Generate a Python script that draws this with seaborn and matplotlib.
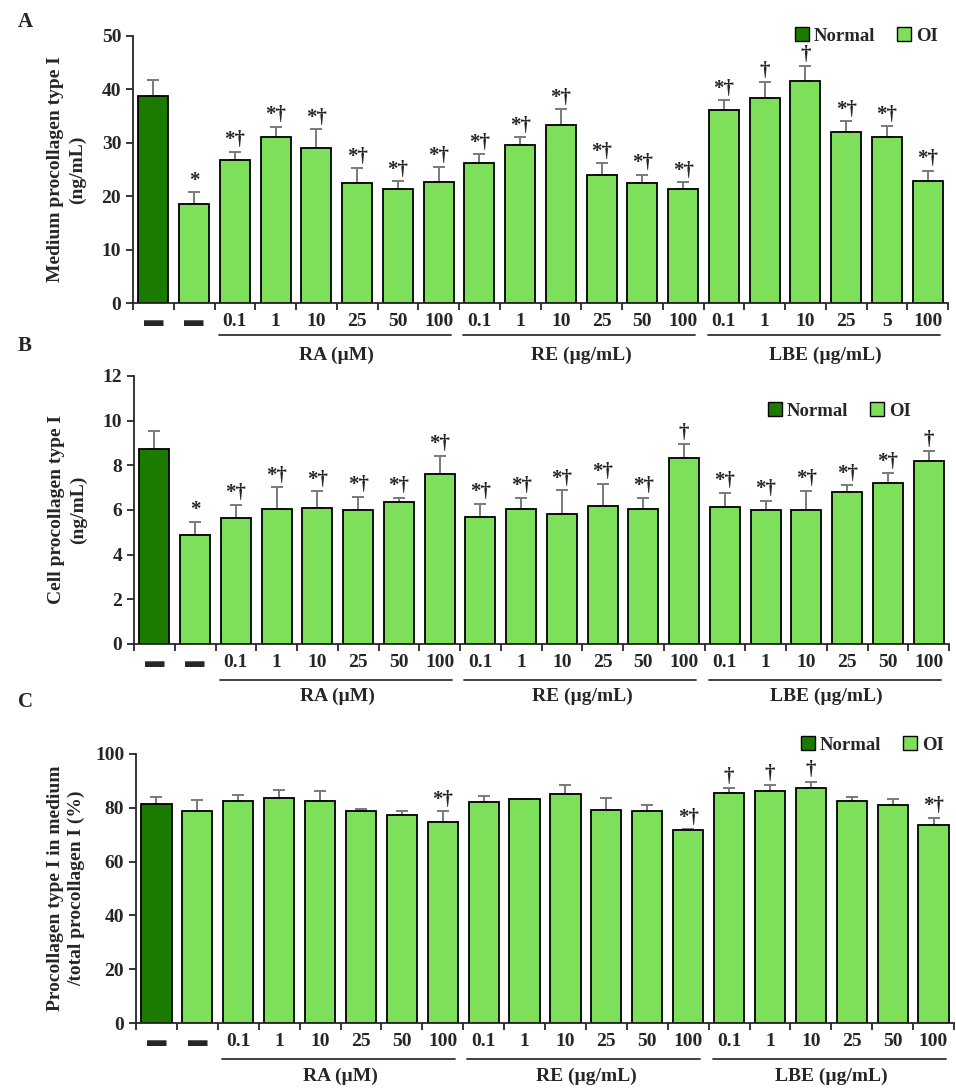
import numpy as np
import pandas as pd
import matplotlib
matplotlib.use("Agg")
import matplotlib.pyplot as plt
import matplotlib.transforms as mtransforms
from matplotlib.patches import Patch
import seaborn as sns

# bar identities (20 bars per panel)
bar_ids = ["Normal", "OI"] + [f"{g} {c}" for g in ["RA", "RE", "LBE"] for c in ["0.1", "1", "10", "25", "50", "100"]]
bar_group = ["Normal"] + ["OI"] * 19

ticks_a = ["▬", "▬"] + ["0.1", "1", "10", "25", "50", "100"] * 2 + ["0.1", "1", "10", "25", "5", "100"]
ticks_bc = ["▬", "▬"] + ["0.1", "1", "10", "25", "50", "100"] * 3

treatments = ["RA (µM)", "RE (µg/mL)", "LBE (µg/mL)"]

# panel A: medium procollagen type I (ng/mL)
a_mean = [38.8, 18.5, 26.8, 31.0, 29.0, 22.4, 21.4, 22.6, 26.2, 29.5, 33.4, 23.9, 22.4, 21.4,
          36.2, 38.3, 41.5, 32.0, 31.0, 22.9]
a_err = [2.9, 2.3, 1.5, 2.0, 3.6, 2.8, 1.4, 2.8, 1.7, 1.5, 2.9, 2.3, 1.6, 1.2,
         1.8, 3.1, 2.8, 2.1, 2.1, 1.9]
a_marks = ["", "*"] + ["*†"] * 12 + ["*†", "†", "†", "*†", "*†", "*†"]

# panel B: cell procollagen type I (ng/mL)
b_mean = [8.74, 4.87, 5.66, 6.03, 6.09, 5.98, 6.34, 7.62, 5.70, 6.03, 5.84, 6.18, 6.03, 8.34,
          6.13, 5.98, 5.98, 6.80, 7.21, 8.19]
b_err = [0.80, 0.61, 0.58, 1.00, 0.76, 0.62, 0.21, 0.81, 0.58, 0.52, 1.04, 1.00, 0.52, 0.62,
         0.64, 0.44, 0.88, 0.30, 0.43, 0.43]
b_marks = ["", "*"] + ["*†"] * 6 + ["*†"] * 5 + ["†"] + ["*†"] * 5 + ["†"]

# panel C: medium / total (%)
c_mean = [81.4, 78.8, 82.4, 83.7, 82.4, 78.8, 77.2, 74.6, 82.0, 83.1, 85.1, 79.2, 78.8, 71.8,
          85.4, 86.4, 87.3, 82.4, 81.1, 73.6]
c_err = [2.7, 4.1, 2.3, 3.1, 3.7, 0.7, 1.7, 4.2, 2.4, 0.3, 3.2, 4.3, 2.3, 0.3,
         1.9, 1.9, 2.4, 1.7, 2.2, 2.7]
c_marks = ["", ""] + [""] * 5 + ["*†"] + [""] * 5 + ["*†"] + ["†", "†", "†", "", "", "*†"]

colors = {"Normal": "#1b7a00", "OI": "#7ddf5a"}

sns.set_theme(style="ticks")
plt.rcParams["font.family"] = ["Liberation Serif", "DejaVu Sans"]
plt.rcParams["font.weight"] = "bold"
plt.rcParams["axes.linewidth"] = 1.3

W, H = 956, 1088
FS = 14
fig = plt.figure(figsize=(W / 100, H / 100), dpi=100)


def px_axes(left, right, top, bottom):
    return fig.add_axes([left / W, 1 - bottom / H, (right - left) / W, (bottom - top) / H])


def draw_panel(ax, mean, err, marks, ticks, ymax, ystep, ylabel, label_x, line_y, text_y):
    df = pd.DataFrame({"bar": bar_ids, "value": mean, "group": bar_group})
    ax.errorbar(np.arange(len(mean)), mean, yerr=[np.zeros(len(mean)), err], fmt="none",
                ecolor="#7a7a7a", elinewidth=1.4, capsize=4.5, capthick=1.4, zorder=0.5)
    sns.barplot(data=df, x="bar", y="value", hue="group", order=bar_ids, palette=colors,
                dodge=False, width=0.74, edgecolor="black", linewidth=1.3, errorbar=None,
                saturation=1, legend=False, ax=ax)
    for i, m in enumerate(marks):
        if m:
            ax.annotate(m, (i, mean[i] + err[i]), xytext=(0, 1), textcoords="offset points",
                        ha="center", va="bottom", fontsize=15, fontweight="bold")
    ax.set_xlim(-0.5, 19.5)
    ax.set_ylim(0, ymax)
    ax.set_yticks(np.arange(0, ymax + 0.01, ystep))
    ax.set_xticks(np.arange(20))
    ax.set_xticklabels(ticks)
    ax.set_xticks(np.arange(-0.5, 20, 1), minor=True)
    ax.tick_params(axis="x", which="major", length=0, pad=7, labelsize=FS)
    ax.tick_params(axis="x", which="minor", length=5, width=1.3, direction="out")
    ax.tick_params(axis="y", length=5, width=1.3, labelsize=FS)
    ax.set_xlabel("")
    ax.set_ylabel(ylabel, fontsize=FS, fontweight="bold", linespacing=1.3)
    ax.yaxis.set_label_coords(label_x, 0.5)
    sns.despine(ax=ax)
    trans = mtransforms.blended_transform_factory(ax.transData, ax.transAxes)
    for k, name in enumerate(treatments):
        x0, x1 = 2 + 6 * k, 7 + 6 * k
        ax.plot([x0 - 0.4, x1 + 0.3], [line_y, line_y], color="#333333", lw=1.3,
                transform=trans, clip_on=False)
        ax.text((x0 + x1) / 2, text_y, name, transform=trans, ha="center", va="center",
                fontsize=FS, fontweight="bold")


def add_legend(ax, right_px, y_px):
    handles = [Patch(facecolor=colors[g], edgecolor="black", linewidth=1.0, label=g)
               for g in ["Normal", "OI"]]
    ax.legend(handles=handles, loc="center right", bbox_to_anchor=(right_px / W, 1 - y_px / H),
              bbox_transform=fig.transFigure, ncol=2, frameon=False, fontsize=13.5,
              handlelength=0.75, handleheight=0.75, handletextpad=0.25, columnspacing=1.2,
              borderpad=0, borderaxespad=0)


ax_a = px_axes(133, 948, 36, 303)
draw_panel(ax_a, a_mean, a_err, a_marks, ticks_a, 50, 10,
           "Medium procollagen type I\n(ng/mL)", -0.058, -0.12, -0.195)
add_legend(ax_a, 938, 36)

ax_b = px_axes(134, 949, 376, 644)
draw_panel(ax_b, b_mean, b_err, b_marks, ticks_bc, 12, 2,
           "Cell procollagen type I\n(ng/mL)", -0.058, -0.134, -0.197)
add_legend(ax_b, 911, 411)

ax_c = px_axes(136, 954, 754, 1023)
draw_panel(ax_c, c_mean, c_err, c_marks, ticks_bc, 100, 20,
           "Procollagen type I in medium\n/total procollagen I (%)", -0.062, -0.134, -0.2)
add_legend(ax_c, 944, 745)

for letter, y in [("A", 22), ("B", 346), ("C", 702)]:
    fig.text(18 / W, 1 - y / H, letter, fontsize=15, fontweight="bold", va="center")

fig.savefig("out.png", dpi=100)
